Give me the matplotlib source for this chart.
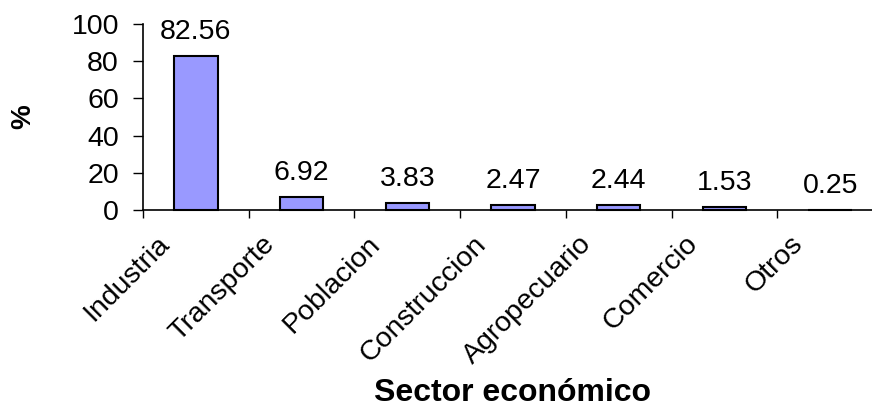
import matplotlib
matplotlib.use("Agg")
import matplotlib.pyplot as plt
import numpy as np

SECTORS = ["Industria", "Transporte", "Poblacion", "Construccion",
           "Agropecuario", "Comercio", "Otros"]
PERCENT = [82.56, 6.92, 3.83, 2.47, 2.44, 1.53, 0.25]
Y_TICKS = [0, 20, 40, 60, 80, 100]

BAR_COLOR = "#9999FF"
FONT = "Liberation Sans"

plt.rcParams["font.family"] = [FONT, "DejaVu Sans"]

W, H = 872, 408
DPI = 100
PX = 72 / DPI  # points per pixel

fig = plt.figure(figsize=(W / DPI, H / DPI), dpi=DPI)
left, right, top, bottom = 143, 883, 24, 210
ax = fig.add_axes([left / W, 1 - bottom / H, (right - left) / W, (bottom - top) / H])

x = np.arange(len(SECTORS))
ax.bar(x, PERCENT, 0.41, color=BAR_COLOR, edgecolor="black", linewidth=1.5, clip_on=False)

for xi, v in zip(x, PERCENT):
    ax.annotate(f"{v:.2f}", (xi, v), xytext=(0, 11 * PX), textcoords="offset points",
                ha="center", va="bottom", fontsize=20.5)

# category labels, rotated and shifted left like the original
for xi, name in zip(x, SECTORS):
    ax.annotate(name, (xi, 0), xytext=(-40 * PX, -21 * PX), textcoords="offset points",
                rotation=45, rotation_mode="anchor", ha="right", va="top",
                fontsize=20.5, annotation_clip=False)

ax.set_xlim(-0.5, len(SECTORS) - 0.5)
ax.set_ylim(0, 100)
ax.set_yticks(Y_TICKS)
ax.tick_params(axis="y", length=10 * PX, width=1, labelsize=20.5, pad=14 * PX)

ax.set_xticks([])
ax.set_xticks(np.arange(len(SECTORS)) - 0.5, minor=True)
ax.tick_params(axis="x", which="minor", length=8 * PX, width=1)

for s in ["top", "right"]:
    ax.spines[s].set_visible(False)
for s in ["left", "bottom"]:
    ax.spines[s].set_linewidth(1.2)

ax.set_ylabel("%", fontsize=20, fontweight="bold")
ax.yaxis.set_label_coords((36 - left) / (right - left), 0.5)
ax.set_xlabel("Sector económico", fontsize=23, fontweight="bold")
ax.xaxis.set_label_coords(0.5, (bottom - 378) / (bottom - top))

fig.savefig("out.png", dpi=DPI)
